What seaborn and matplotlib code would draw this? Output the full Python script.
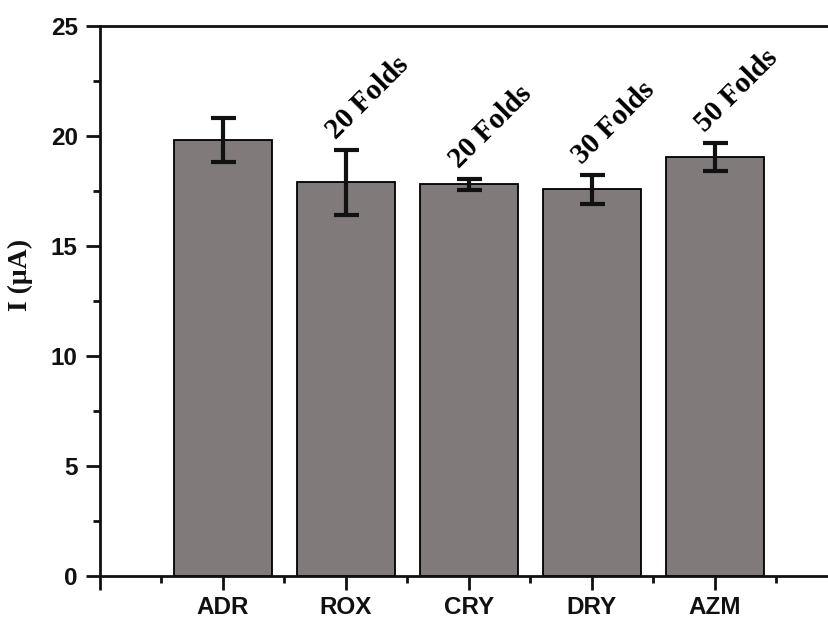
import matplotlib
matplotlib.use("Agg")
import matplotlib.pyplot as plt
import seaborn as sns
import pandas as pd
from matplotlib.ticker import FixedLocator, MultipleLocator

# Measured currents and their standard deviations
categories = ["ADR", "ROX", "CRY", "DRY", "AZM"]
current_uA = [19.82, 17.90, 17.80, 17.57, 19.03]
current_sd = [0.98, 1.48, 0.24, 0.65, 0.64]
fold_labels = ["", "20 Folds", "20 Folds", "30 Folds", "50 Folds"]

df = pd.DataFrame({"drug": categories, "current": current_uA})

sns.set_theme(style="white")
plt.rcParams["font.family"] = ["Liberation Sans", "DejaVu Sans"]

fig = plt.figure(figsize=(8.29, 6.21), dpi=100)
ax = fig.add_axes([100 / 829, 1 - 576 / 621, 738 / 829, 550 / 621])

sns.barplot(data=df, x="drug", y="current", color="#807a7a", saturation=1,
            edgecolor="black", linewidth=1.3, width=0.8, errorbar=None, ax=ax)

pos = list(range(len(categories)))
ax.errorbar(pos, current_uA, yerr=current_sd, fmt="none", ecolor="#111111",
            elinewidth=3, capsize=9, capthick=3, zorder=5)

for x, y, sd, lab in zip(pos, current_uA, current_sd, fold_labels):
    if lab:
        ax.text(x - 0.08, y + sd + 0.45, lab, rotation=45, rotation_mode="anchor",
                ha="left", va="baseline", fontsize=21, fontweight="bold",
                family=["Liberation Serif", "DejaVu Serif"], color="black")

ax.set_xlim(-1, 5)
ax.set_ylim(0, 25)

ax.xaxis.set_major_locator(FixedLocator(list(range(-1, 6))))
ax.set_xticklabels([""] + categories + [""])
ax.xaxis.set_minor_locator(FixedLocator([i + 0.5 for i in range(-1, 5)]))
ax.yaxis.set_major_locator(MultipleLocator(5))
ax.yaxis.set_minor_locator(MultipleLocator(2.5))

for side in ["left", "bottom", "top", "right"]:
    ax.spines[side].set_visible(True)
    ax.spines[side].set_linewidth(2)
    ax.spines[side].set_color("#111111")

ax.tick_params(axis="both", which="major", direction="out", length=10, width=2,
               color="#111111", labelsize=17.5, pad=6)
ax.tick_params(axis="x", which="major", pad=4.5)
ax.tick_params(axis="both", which="minor", direction="out", length=5, width=2,
               color="#111111")
ax.tick_params(axis="x", which="both", bottom=True, top=False)
ax.tick_params(axis="y", which="both", left=True, right=False)
for t in ax.get_xticklabels() + ax.get_yticklabels():
    t.set_fontweight("bold")
    t.set_color("#111111")

ax.set_xlabel("")
ax.set_ylabel("I (μA)", fontsize=20, fontweight="bold",
              family=["Liberation Serif", "DejaVu Serif"], color="#111111")
ax.yaxis.set_label_coords(-0.091, 0.547)

fig.savefig("out.png", dpi=100)
